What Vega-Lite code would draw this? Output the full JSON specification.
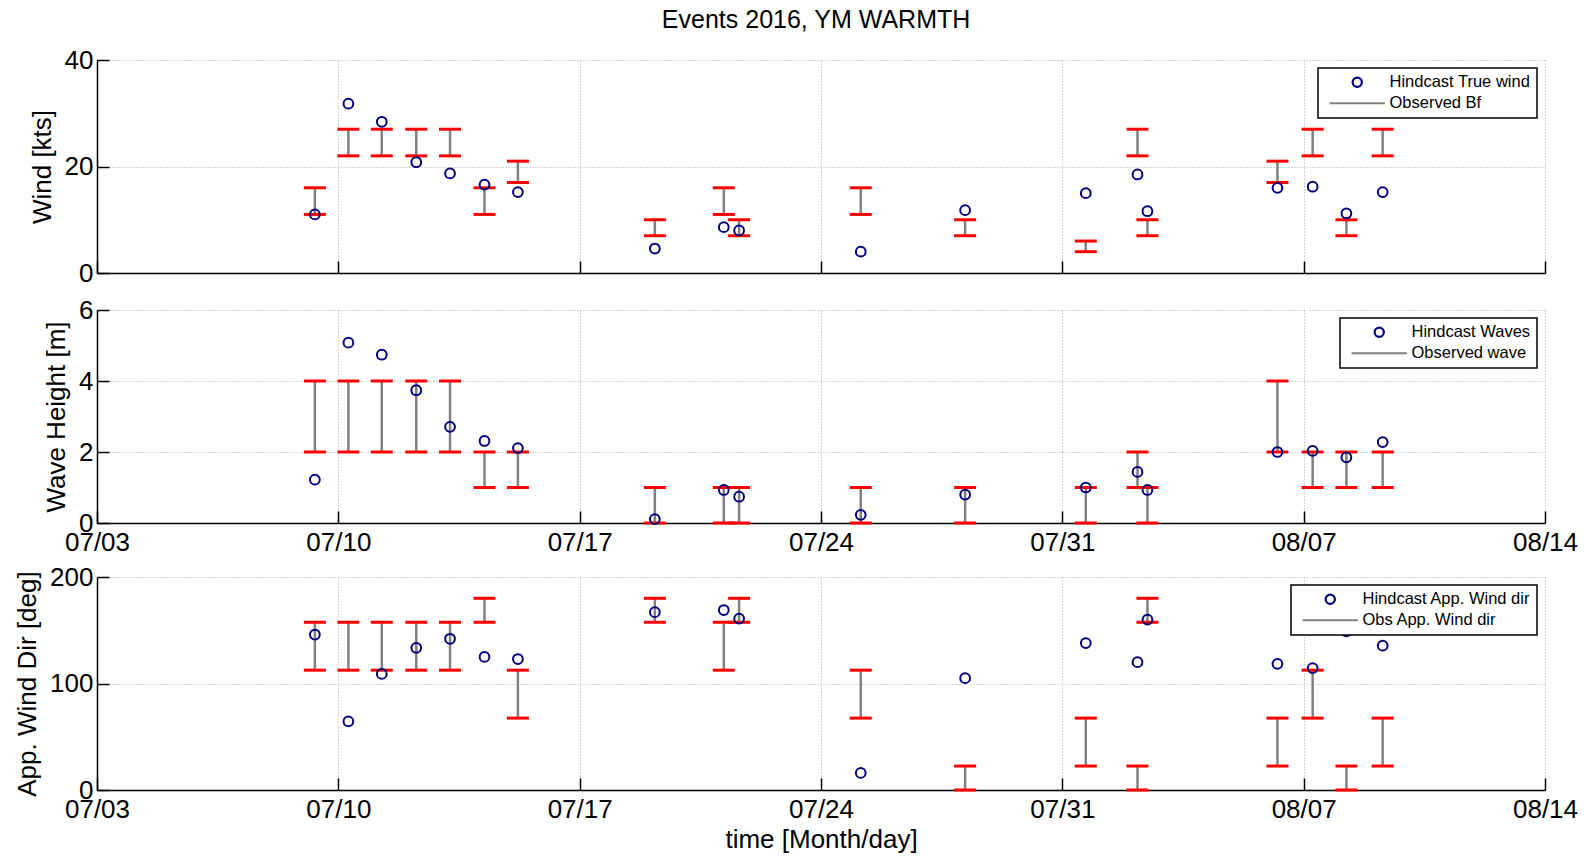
{
 "$schema": "https://vega.github.io/schema/vega-lite/v6.json",
 "background": "white",
 "padding": {"left": 14, "top": 8, "right": 5, "bottom": 5},
 "title": {"text": "Events 2016, YM WARMTH", "font": "Liberation Sans", "fontSize": 25, "fontWeight": "normal", "color": "black", "anchor": "middle", "offset": 14, "dx": 20},
 "datasets": {"events": [
  {"t": "2016-07-09T07:40:00", "wind": 11.0, "bf_lo": 11, "bf_hi": 16, "wave": 1.22, "wv_lo": 2, "wv_hi": 4, "dir": 146, "dir_lo": 112.5, "dir_hi": 157.5},
  {"t": "2016-07-10T07:00:00", "wind": 31.8, "bf_lo": 22, "bf_hi": 27, "wave": 5.08, "wv_lo": 2, "wv_hi": 4, "dir": 64.5, "dir_lo": 112.5, "dir_hi": 157.5},
  {"t": "2016-07-11T06:15:00", "wind": 28.4, "bf_lo": 22, "bf_hi": 27, "wave": 4.74, "wv_lo": 2, "wv_hi": 4, "dir": 109, "dir_lo": 112.5, "dir_hi": 157.5},
  {"t": "2016-07-12T06:15:00", "wind": 20.8, "bf_lo": 22, "bf_hi": 27, "wave": 3.74, "wv_lo": 2, "wv_hi": 4, "dir": 133.5, "dir_lo": 112.5, "dir_hi": 157.5},
  {"t": "2016-07-13T05:45:00", "wind": 18.7, "bf_lo": 22, "bf_hi": 27, "wave": 2.71, "wv_lo": 2, "wv_hi": 4, "dir": 142, "dir_lo": 112.5, "dir_hi": 157.5},
  {"t": "2016-07-14T05:45:00", "wind": 16.6, "bf_lo": 11, "bf_hi": 16, "wave": 2.31, "wv_lo": 1, "wv_hi": 2, "dir": 125, "dir_lo": 157.5, "dir_hi": 180},
  {"t": "2016-07-15T05:00:00", "wind": 15.2, "bf_lo": 17, "bf_hi": 21, "wave": 2.11, "wv_lo": 1, "wv_hi": 2, "dir": 123, "dir_lo": 67.5, "dir_hi": 112.5},
  {"t": "2016-07-19T04:20:00", "wind": 4.6, "bf_lo": 7, "bf_hi": 10, "wave": 0.11, "wv_lo": 0, "wv_hi": 1, "dir": 167, "dir_lo": 157.5, "dir_hi": 180},
  {"t": "2016-07-21T04:20:00", "wind": 8.6, "bf_lo": 11, "bf_hi": 16, "wave": 0.93, "wv_lo": 0, "wv_hi": 1, "dir": 169, "dir_lo": 112.5, "dir_hi": 157.5},
  {"t": "2016-07-21T15:00:00", "wind": 8.0, "bf_lo": 7, "bf_hi": 10, "wave": 0.74, "wv_lo": 0, "wv_hi": 1, "dir": 161, "dir_lo": 157.5, "dir_hi": 180},
  {"t": "2016-07-25T03:40:00", "wind": 4.0, "bf_lo": 11, "bf_hi": 16, "wave": 0.23, "wv_lo": 0, "wv_hi": 1, "dir": 16, "dir_lo": 67.5, "dir_hi": 112.5},
  {"t": "2016-07-28T04:20:00", "wind": 11.8, "bf_lo": 7, "bf_hi": 10, "wave": 0.8, "wv_lo": 0, "wv_hi": 1, "dir": 105, "dir_lo": 0, "dir_hi": 22.5},
  {"t": "2016-07-31T16:20:00", "wind": 15.0, "bf_lo": 4, "bf_hi": 6, "wave": 1.0, "wv_lo": 0, "wv_hi": 1, "dir": 138, "dir_lo": 22.5, "dir_hi": 67.5},
  {"t": "2016-08-02T04:20:00", "wind": 18.5, "bf_lo": 22, "bf_hi": 27, "wave": 1.44, "wv_lo": 1, "wv_hi": 2, "dir": 120, "dir_lo": 0, "dir_hi": 22.5},
  {"t": "2016-08-02T11:15:00", "wind": 11.6, "bf_lo": 7, "bf_hi": 10, "wave": 0.93, "wv_lo": 0, "wv_hi": 1, "dir": 160, "dir_lo": 157.5, "dir_hi": 180},
  {"t": "2016-08-06T05:45:00", "wind": 16.0, "bf_lo": 17, "bf_hi": 21, "wave": 2.0, "wv_lo": 2, "wv_hi": 4, "dir": 118.5, "dir_lo": 22.5, "dir_hi": 67.5},
  {"t": "2016-08-07T06:15:00", "wind": 16.2, "bf_lo": 22, "bf_hi": 27, "wave": 2.03, "wv_lo": 1, "wv_hi": 2, "dir": 114.5, "dir_lo": 67.5, "dir_hi": 112.5},
  {"t": "2016-08-08T05:45:00", "wind": 11.2, "bf_lo": 7, "bf_hi": 10, "wave": 1.85, "wv_lo": 1, "wv_hi": 2, "dir": 149, "dir_lo": 0, "dir_hi": 22.5},
  {"t": "2016-08-09T07:00:00", "wind": 15.2, "bf_lo": 22, "bf_hi": 27, "wave": 2.28, "wv_lo": 1, "wv_hi": 2, "dir": 135.5, "dir_lo": 22.5, "dir_hi": 67.5}
 ]},
 "spacing": 0,
 "bounds": "flush",
 "resolve": {"scale": {"color": "independent", "shape": "independent"}, "legend": {"color": "independent", "shape": "independent"}},
 "vconcat": [
  {
   "width": 1448, "height": 213,
   "data": {"name": "events"},
   "encoding": {"x": {"field": "t", "type": "temporal", "title": null,
     "scale": {"domain": [{"year": 2016, "month": 7, "date": 3}, {"year": 2016, "month": 8, "date": 14}]},
     "axis": {"labels": false, "format": "%m/%d", "values": [{"year": 2016, "month": 7, "date": 3}, {"year": 2016, "month": 7, "date": 10}, {"year": 2016, "month": 7, "date": 17}, {"year": 2016, "month": 7, "date": 24}, {"year": 2016, "month": 7, "date": 31}, {"year": 2016, "month": 8, "date": 7}, {"year": 2016, "month": 8, "date": 14}]}}},
   "layer": [
    {"mark": {"type": "rule", "strokeWidth": 2.5, "color": "#808080"},
     "encoding": {"y": {"field": "bf_lo", "type": "quantitative", "title": "Wind [kts]", "scale": {"domain": [0, 40], "nice": false}, "axis": {"values": [0, 20, 40]}},
      "y2": {"field": "bf_hi"}}},
    {"mark": {"type": "tick", "orient": "horizontal", "color": "#ff0000", "size": 22, "thickness": 3, "opacity": 1},
     "encoding": {"y": {"field": "bf_lo", "type": "quantitative", "title": "Wind [kts]"}}},
    {"mark": {"type": "tick", "orient": "horizontal", "color": "#ff0000", "size": 22, "thickness": 3, "opacity": 1},
     "encoding": {"y": {"field": "bf_hi", "type": "quantitative", "title": "Wind [kts]"}}},
    {"mark": {"type": "point", "filled": false, "size": 95, "strokeWidth": 2, "opacity": 1},
     "encoding": {"y": {"field": "wind", "type": "quantitative", "title": "Wind [kts]"},
      "color": {"datum": "Hindcast True wind", "type": "nominal",
       "scale": {"domain": ["Hindcast True wind", "Observed Bf"], "range": ["#000080", "#808080"]},
       "legend": {"title": null}},
      "shape": {"datum": "Hindcast True wind", "type": "nominal",
       "scale": {"domain": ["Hindcast True wind", "Observed Bf"], "range": ["circle", "M-6,0H6"]},
       "legend": {"title": null}}}}
   ]
  },
  {"width": 1448, "height": 37, "data": {"values": []}, "mark": "point"},
  {
   "width": 1448, "height": 213,
   "data": {"name": "events"},
   "encoding": {"x": {"field": "t", "type": "temporal", "title": null,
     "scale": {"domain": [{"year": 2016, "month": 7, "date": 3}, {"year": 2016, "month": 8, "date": 14}]},
     "axis": {"format": "%m/%d", "values": [{"year": 2016, "month": 7, "date": 3}, {"year": 2016, "month": 7, "date": 10}, {"year": 2016, "month": 7, "date": 17}, {"year": 2016, "month": 7, "date": 24}, {"year": 2016, "month": 7, "date": 31}, {"year": 2016, "month": 8, "date": 7}, {"year": 2016, "month": 8, "date": 14}]}}},
   "layer": [
    {"mark": {"type": "rule", "strokeWidth": 2.5, "color": "#808080"},
     "encoding": {"y": {"field": "wv_lo", "type": "quantitative", "title": "Wave Height [m]", "scale": {"domain": [0, 6], "nice": false}, "axis": {"values": [0, 1, 2, 3, 4, 5, 6]}},
      "y2": {"field": "wv_hi"}}},
    {"mark": {"type": "tick", "orient": "horizontal", "color": "#ff0000", "size": 22, "thickness": 3, "opacity": 1},
     "encoding": {"y": {"field": "wv_lo", "type": "quantitative", "title": "Wave Height [m]"}}},
    {"mark": {"type": "tick", "orient": "horizontal", "color": "#ff0000", "size": 22, "thickness": 3, "opacity": 1},
     "encoding": {"y": {"field": "wv_hi", "type": "quantitative", "title": "Wave Height [m]"}}},
    {"mark": {"type": "point", "filled": false, "size": 95, "strokeWidth": 2, "opacity": 1},
     "encoding": {"y": {"field": "wave", "type": "quantitative", "title": "Wave Height [m]"},
      "color": {"datum": "Hindcast Waves", "type": "nominal",
       "scale": {"domain": ["Hindcast Waves", "Observed wave"], "range": ["#000080", "#808080"]},
       "legend": {"title": null}},
      "shape": {"datum": "Hindcast Waves", "type": "nominal",
       "scale": {"domain": ["Hindcast Waves", "Observed wave"], "range": ["circle", "M-6,0H6"]},
       "legend": {"title": null}}}}
   ]
  },
  {"width": 1448, "height": 54, "data": {"values": []}, "mark": "point"},
  {
   "width": 1448, "height": 213,
   "data": {"name": "events"},
   "encoding": {"x": {"field": "t", "type": "temporal", "title": "time [Month/day]",
     "scale": {"domain": [{"year": 2016, "month": 7, "date": 3}, {"year": 2016, "month": 8, "date": 14}]},
     "axis": {"format": "%m/%d", "titlePadding": 4, "values": [{"year": 2016, "month": 7, "date": 3}, {"year": 2016, "month": 7, "date": 10}, {"year": 2016, "month": 7, "date": 17}, {"year": 2016, "month": 7, "date": 24}, {"year": 2016, "month": 7, "date": 31}, {"year": 2016, "month": 8, "date": 7}, {"year": 2016, "month": 8, "date": 14}]}}},
   "layer": [
    {"mark": {"type": "rule", "strokeWidth": 2.5, "color": "#808080"},
     "encoding": {"y": {"field": "dir_lo", "type": "quantitative", "title": "App. Wind Dir [deg]", "scale": {"domain": [0, 200], "nice": false}, "axis": {"values": [0, 100, 200]}},
      "y2": {"field": "dir_hi"}}},
    {"mark": {"type": "tick", "orient": "horizontal", "color": "#ff0000", "size": 22, "thickness": 3, "opacity": 1},
     "encoding": {"y": {"field": "dir_lo", "type": "quantitative", "title": "App. Wind Dir [deg]"}}},
    {"mark": {"type": "tick", "orient": "horizontal", "color": "#ff0000", "size": 22, "thickness": 3, "opacity": 1},
     "encoding": {"y": {"field": "dir_hi", "type": "quantitative", "title": "App. Wind Dir [deg]"}}},
    {"mark": {"type": "point", "filled": false, "size": 95, "strokeWidth": 2, "opacity": 1},
     "encoding": {"y": {"field": "dir", "type": "quantitative", "title": "App. Wind Dir [deg]"},
      "color": {"datum": "Hindcast App. Wind dir", "type": "nominal",
       "scale": {"domain": ["Hindcast App. Wind dir", "Obs App. Wind dir"], "range": ["#000080", "#808080"]},
       "legend": {"title": null}},
      "shape": {"datum": "Hindcast App. Wind dir", "type": "nominal",
       "scale": {"domain": ["Hindcast App. Wind dir", "Obs App. Wind dir"], "range": ["circle", "M-6,0H6"]},
       "legend": {"title": null}}}}
   ]
  }
 ],
 "config": {
  "view": {"stroke": null},
  "font": "Liberation Sans",
  "axis": {"labelFont": "Liberation Sans", "labelFontSize": 26, "labelColor": "black", "titleFont": "Liberation Sans", "titleFontSize": 26, "titleFontWeight": "normal", "titleColor": "black", "domainColor": "black", "domainWidth": 1.5, "tickColor": "black", "tickWidth": 1.5, "tickSize": -12, "gridColor": "#a8a8a8", "gridDash": [1, 2], "gridWidth": 1, "labelOverlap": false, "labelFlush": false},
  "axisX": {"labelPadding": 18, "grid": true},
  "axisY": {"labelPadding": 16, "titlePadding": 9, "grid": true},
  "legend": {"orient": "top-right", "offset": 8, "labelFont": "Liberation Sans", "labelFontSize": 16.5, "labelColor": "black", "labelLimit": 400, "fillColor": "white", "strokeColor": "black", "strokeWidth": 1.5, "padding": 6, "rowPadding": 3, "symbolSize": 85, "symbolStrokeWidth": 2.2, "symbolOffset": 25, "labelOffset": 24, "symbolOpacity": 1, "cornerRadius": 0}
 }
}
